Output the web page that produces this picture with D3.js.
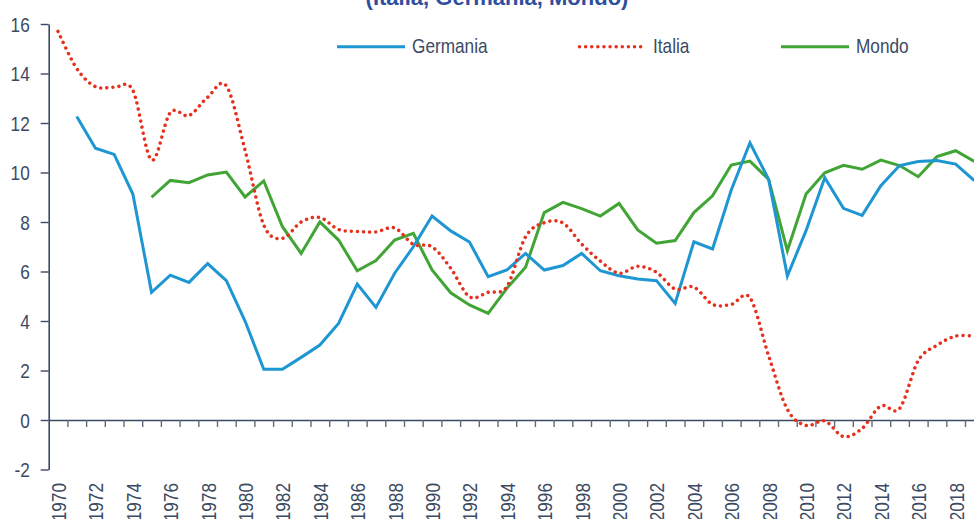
<!DOCTYPE html>
<html>
<head>
<meta charset="utf-8">
<script src="https://cdn.jsdelivr.net/npm/d3@7"></script>
<style>
  html, body { margin: 0; padding: 0; background: #ffffff; }
  svg { display: block; }
  text { font-family: 'Liberation Sans', Arial, sans-serif; }
</style>
</head>
<body>
<svg id="chart" width="974" height="519"></svg>
<script>
// ---- data ----
const years = d3.range(1970, 2020);
const seriesNames = ["Germania", "Italia", "Mondo"];
const germania = [null, 12.26, 10.98, 10.73, 9.13, 5.16, 5.85, 5.56, 6.32, 5.63,
  4.0, 2.05, 2.05, 2.53, 3.03, 3.9, 5.49, 4.55, 5.93, 7.0,
  8.24, 7.64, 7.19, 5.79, 6.06, 6.73, 6.06, 6.24, 6.73, 6.03,
  5.83, 5.70, 5.63, 4.71, 7.2, 6.91, 9.29, 11.2, 9.72, 5.82,
  7.65, 9.79, 8.55, 8.27, 9.47, 10.28, 10.44, 10.48, 10.34, 9.67];
const italia = [15.7, 14.2, 13.47, 13.44, 13.32, 10.5, 12.42, 12.3, 13.04, 13.5,
  10.9, 7.88, 7.34, 8.0, 8.18, 7.7, 7.62, 7.6, 7.76, 7.1,
  7.0, 6.13, 4.98, 5.16, 5.39, 7.4, 7.97, 7.96, 7.11, 6.42,
  5.93, 6.21, 5.97, 5.29, 5.37, 4.67, 4.67, 4.94, 2.59, 0.43,
  -0.22, -0.04, -0.67, -0.34, 0.57, 0.46, 2.4, 3.02, 3.39, 3.39];
const mondo = [null, null, null, null, null, 9.0, 9.68, 9.59, 9.9, 10.02,
  9.01, 9.66, 7.81, 6.73, 8.0, 7.27, 6.03, 6.44, 7.27, 7.54,
  6.06, 5.14, 4.65, 4.31, 5.32, 6.17, 8.38, 8.79, 8.54, 8.24,
  8.75, 7.68, 7.14, 7.25, 8.38, 9.06, 10.3, 10.46, 9.72, 6.84,
  9.13, 9.99, 10.29, 10.13, 10.5, 10.28, 9.83, 10.64, 10.88, 10.45];
const yTicks = [-2, 0, 2, 4, 6, 8, 10, 12, 14, 16];
const xLabelYears = years.filter(y => y % 2 === 0);
const titleText = "(Italia, Germania, Mondo)";

// ---- layout ----
const svg = d3.select("#chart");
const axisColor = "#3b4a63";
const colors = { Germania: "#1e96d2", Italia: "#e5301d", Mondo: "#41a535" };
const narrow = 0.82;   // emulate a narrow sans face
const fs = 21;

const x = d3.scaleLinear().domain([1969.5, 2019.5]).range([48.7, 983.7]);
const y = d3.scaleLinear().domain([-2, 16]).range([469.5, 24]);

// title (partially cut at top)
svg.append("text")
  .attr("x", 497).attr("y", 5)
  .attr("text-anchor", "middle")
  .attr("font-size", 22).attr("font-weight", "bold")
  .attr("fill", "#2f4f9e")
  .text(titleText);

// y axis
const yAxis = svg.append("g")
  .attr("transform", `translate(${x.range()[0]},0)`)
  .call(d3.axisLeft(y).tickValues(yTicks).tickSizeInner(8).tickSizeOuter(0).tickPadding(11)
    .tickFormat(d => String(d)));
yAxis.select(".domain").attr("stroke", axisColor).attr("stroke-width", 1.6);
yAxis.selectAll(".tick line").attr("stroke", axisColor).attr("stroke-width", 1.4);
yAxis.selectAll(".tick text").attr("fill", axisColor).attr("font-size", fs)
  .attr("x", 0).attr("dy", "0.35em")
  .attr("transform", `translate(-19,0) scale(${narrow},1)`);

// x axis at zero: tick marks at category boundaries
const boundaries = d3.range(1970.5, 2019.6, 1);
const xAxis = svg.append("g")
  .attr("transform", `translate(0,${y(0)})`)
  .call(d3.axisBottom(x).tickValues(boundaries).tickSizeInner(7).tickSizeOuter(0).tickFormat(""));
xAxis.select(".domain").attr("stroke", axisColor).attr("stroke-width", 1.6);
xAxis.selectAll(".tick line").attr("stroke", "#5d6c82").attr("stroke-width", 1.4);

// x labels (rotated), centred in categories
const xLab = svg.append("g")
  .attr("transform", `translate(0,483)`)
  .call(d3.axisBottom(x).tickValues(xLabelYears).tickSize(0).tickFormat(d => String(d)));
xLab.select(".domain").remove();
xLab.selectAll(".tick text")
  .attr("fill", axisColor).attr("font-size", fs)
  .attr("text-anchor", "end")
  .attr("transform", `rotate(-90) scale(${narrow},1)`)
  .attr("x", 0).attr("y", 0).attr("dy", "0.35em");

// lines
const dataBy = { Germania: germania, Italia: italia, Mondo: mondo };
const straight = d3.line()
  .defined(d => d.v !== null)
  .x(d => x(d.year)).y(d => y(d.v));
const smooth = d3.line()
  .defined(d => d.v !== null)
  .curve(d3.curveCardinal.tension(0))
  .x(d => x(d.year)).y(d => y(d.v));

["Mondo", "Germania", "Italia"].forEach(name => {
  const pts = years.map((yr, i) => ({ year: yr, v: dataBy[name][i] }));
  const p = svg.append("path")
    .datum(pts)
    .attr("fill", "none")
    .attr("stroke", colors[name]);
  if (name === "Italia") {
    p.attr("d", smooth).attr("stroke-width", 3.5)
      .attr("stroke-linecap", "round")
      .attr("stroke-dasharray", "0.01 6.1");
  } else {
    p.attr("d", straight).attr("stroke-width", 3).attr("stroke-linejoin", "miter");
  }
});

// legend
const legendPos = { Germania: 337, Italia: 578, Mondo: 781 };
seriesNames.forEach(name => {
  const lx = legendPos[name];
  const g = svg.append("g").attr("transform", `translate(${lx},46.7)`);
  const ln = g.append("line").attr("x1", 0).attr("x2", 68).attr("y1", 0).attr("y2", 0)
    .attr("stroke", colors[name]).attr("stroke-width", 3);
  if (name === "Italia") ln.attr("stroke-linecap", "round").attr("stroke-dasharray", "0.01 6.1").attr("x1", 1.5).attr("stroke-width", 3.5);
  g.append("text").attr("x", 0).attr("y", 0).attr("fill", axisColor)
    .attr("font-size", fs)
    .attr("transform", `translate(75,6) scale(${narrow},1)`)
    .text(name);
});
</script>
</body>
</html>
